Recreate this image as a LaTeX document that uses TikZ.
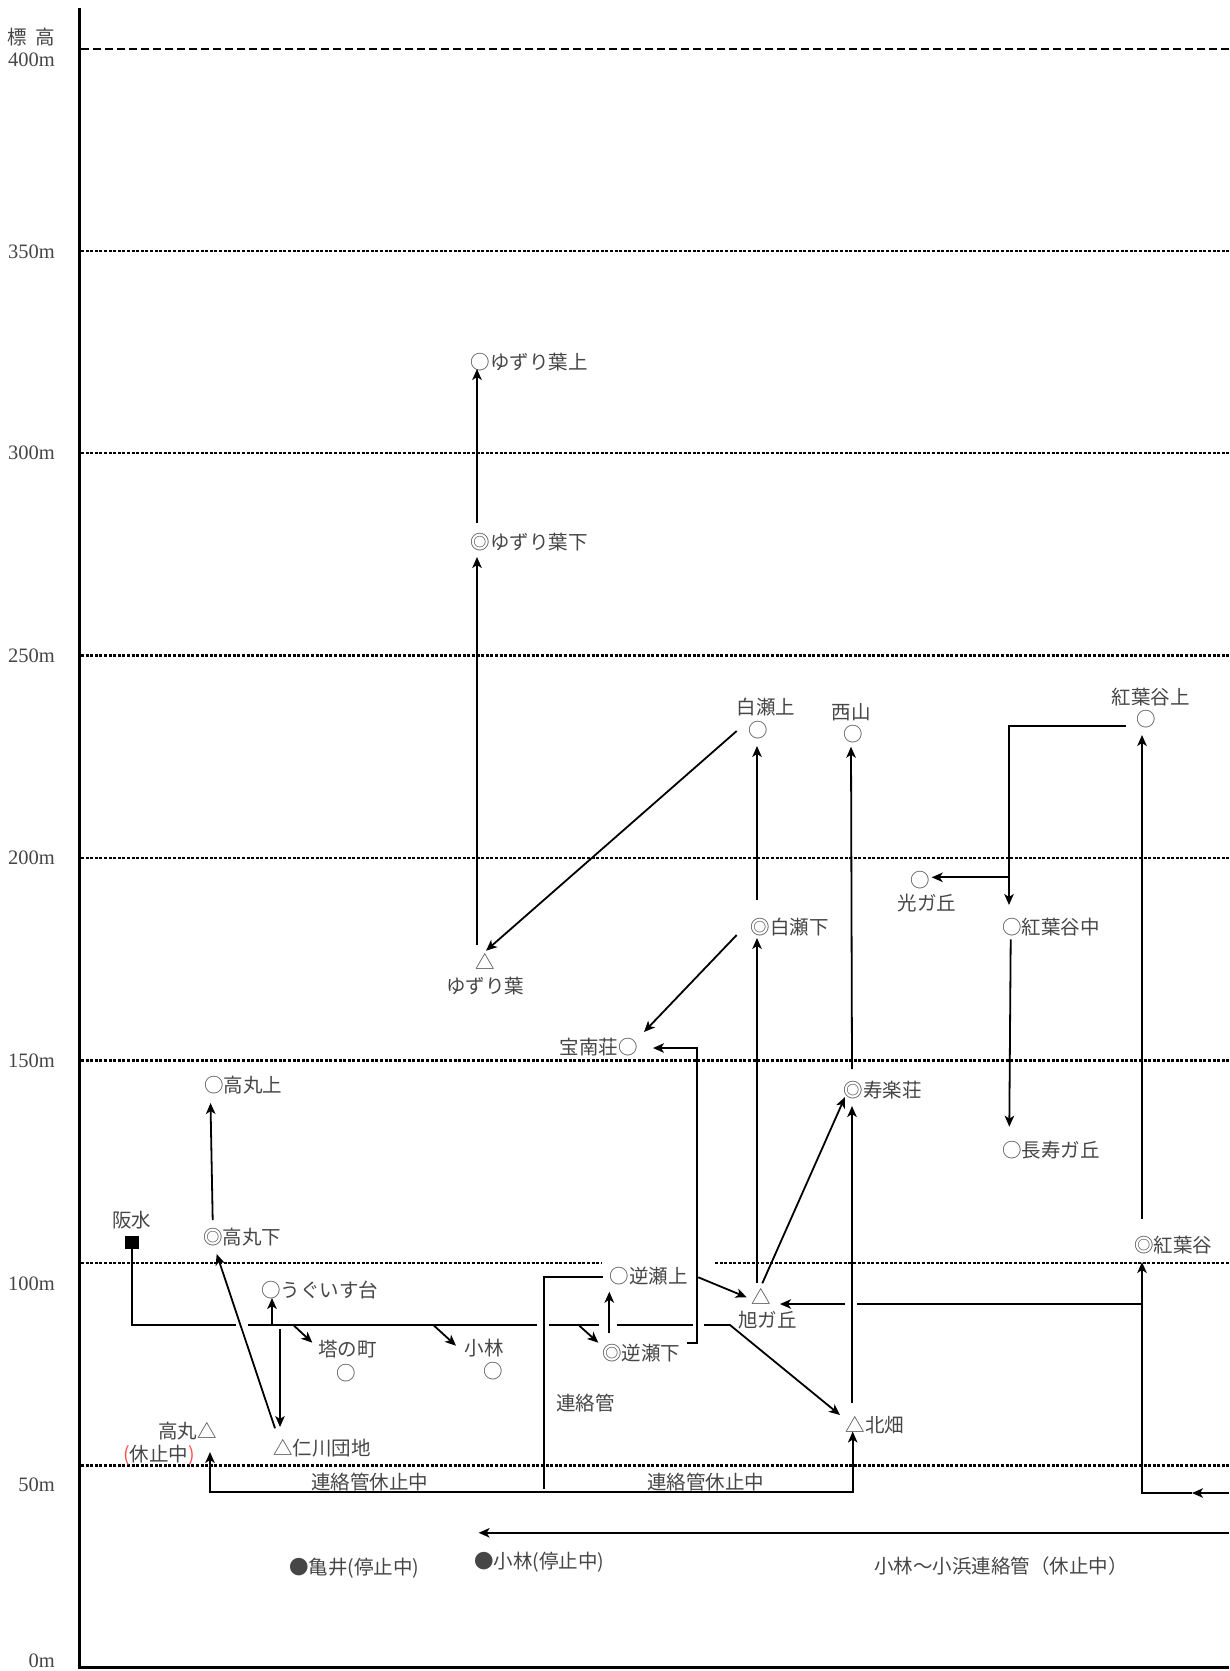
\documentclass[tikz,border=0pt]{standalone}
\usepackage{fontspec}
\newfontfamily\jp{Noto Sans CJK JP}
\newfontfamily\axf{Liberation Serif}
\usetikzlibrary{arrows.meta}
\definecolor{txt}{HTML}{464646}
\definecolor{paren}{HTML}{FF5050}
\begin{document}
\begin{tikzpicture}[x=1bp,y=-1bp,
  lbl/.style={font=\jp\fontsize{19.5bp}{24bp}\selectfont, text=txt, inner sep=0pt},
  axl/.style={font=\axf\fontsize{20.5bp}{24bp}\selectfont, text=txt, inner sep=0pt, anchor=east},
  pipe/.style={line width=1.8bp},
  arr/.style={pipe, -{Stealth[length=11bp,width=9.5bp,inset=3bp]}},
  barr/.style={pipe, {Stealth[length=11bp,width=9.5bp,inset=3bp]}-{Stealth[length=11bp,width=9.5bp,inset=3bp]}},
  gridln/.style={line width=2.3bp, dash pattern=on 3bp off 1.6bp},
  ]
\useasboundingbox (0,0) rectangle (1229,1671);

% ---------- axis ----------
\coordinate (axT) at (79.5,8);
\coordinate (axB) at (79.5,1667);
\coordinate (axR) at (1229,1667);
\draw[line width=3bp] (axT) -- (axB) -- (axR);

% grid lines
\draw[line width=2.5bp, dash pattern=on 8bp off 4bp] (81,49) -- (1229,49);
\foreach \yy in {251,453,655.5,858,1060.5,1465.5}
  \draw[gridln] (81,\yy) -- (1229,\yy);
\draw[gridln] (81,1263) -- (602,1263);
\draw[gridln] (715,1263) -- (1229,1263);

% axis labels
\node[lbl, anchor=east] (hyoko) at (55,37) {標\hspace{8bp}高};
\node[axl] (l400) at (55,59.5) {400m};
\node[axl] (l350) at (55,251.5) {350m};
\node[axl] (l300) at (55,453) {300m};
\node[axl] (l250) at (55,655.5) {250m};
\node[axl] (l200) at (55,858) {200m};
\node[axl] (l150) at (55,1060.5) {150m};
\node[axl] (l100) at (55,1283.5) {100m};
\node[axl] (l50) at (55,1485) {50m};
\node[axl] (l0) at (55,1660.5) {0m};

% ---------- stations ----------
\node[lbl, anchor=west] (yzU) at (470.5,362) {○ゆずり葉上};
\node[lbl, anchor=west] (yzD) at (470.5,542) {◎ゆずり葉下};
\node[lbl, align=center] (yz) at (485,974) {△\\ゆずり葉};
\node[lbl] (sirUl) at (766,707) {白瀬上};
\node[lbl] (sirU) at (758.3,730) {○};
\node[lbl] (nisl) at (851,712) {西山};
\node[lbl] (nis) at (853.3,734) {○};
\node[lbl, anchor=west] (sirD) at (750.5,926.7) {◎白瀬下};
\node[lbl, anchor=east] (hon) at (638,1047) {宝南荘○};
\node[lbl, anchor=west] (jur) at (843.5,1090) {◎寿楽荘};
\node[lbl] (kouUl) at (1150.5,697) {紅葉谷上};
\node[lbl] (kouU) at (1146.7,719.3) {○};
\node[lbl] (hik) at (920.7,880) {○};
\node[lbl] (hikl) at (927,903.3) {光ガ丘};
\node[lbl, anchor=west] (kouM) at (1002,927.3) {○紅葉谷中};
\node[lbl, anchor=west] (cho) at (1002,1150) {○長寿ガ丘};
\node[lbl, anchor=west] (takU) at (204,1085) {○高丸上};
\node[lbl, anchor=west] (takD) at (203,1237.3) {◎高丸下};
\node[lbl] (hanl) at (131.7,1220) {阪水};
\node[fill=black, minimum width=14bp, minimum height=13bp, inner sep=0pt] (han) at (132,1242.5) {};
\node[lbl, anchor=west] (ugu) at (261,1290) {○うぐいす台};
\node[lbl] (toul) at (347.3,1349.3) {塔の町};
\node[lbl] (tou) at (346.7,1372.7) {○};
\node[lbl] (kobl) at (484,1348.3) {小林};
\node[lbl] (kob) at (493.3,1371) {○};
\node[lbl, anchor=east] (tak) at (217,1431) {高丸△};
\node[lbl, anchor=east] (takk) at (195,1455) {\textcolor{paren}{(}休止中\textcolor{paren}{)}};
\node[lbl, anchor=west] (nig) at (273,1448.3) {△仁川団地};
\node[lbl, anchor=west] (sakU) at (609.5,1276) {○逆瀬上};
\node[lbl, anchor=west] (sakD) at (602,1353.3) {◎逆瀬下};
\node[lbl] (asa) at (761.7,1296.7) {△};
\node[lbl] (asal) at (767.3,1320) {旭ガ丘};
\node[lbl, anchor=west] (kit) at (845.5,1425) {△北畑};
\node[lbl, anchor=west] (kou) at (1134,1245) {◎紅葉谷};
\node[lbl] (renl) at (585.5,1403) {連絡管};
\node[lbl] (ren1) at (369.5,1481.6) {連絡管休止中};
\node[lbl] (ren2) at (705.5,1481.6) {連絡管休止中};
\node[lbl, anchor=west] (kam) at (289,1568) {●亀井(停止中)};
\node[lbl, anchor=west] (kobS) at (474,1562.6) {●小林(停止中)};
\node[lbl, anchor=west] (kohama) at (874,1566) {小林〜小浜連絡管（休止中）};

% ---------- connectors ----------
% ゆずり葉 -> ゆずり葉下 -> ゆずり葉上
\coordinate (yzTop) at (477,945);
\coordinate (yzDin) at (477,557);
\draw[arr] (yzTop) -- (yzDin);
\coordinate (yzDout) at (477,523);
\coordinate (yzUin) at (477,369);
\draw[arr] (yzDout) -- (yzUin);
% 白瀬上 -> ゆずり葉
\coordinate (sirUout) at (736.7,731);
\coordinate (yzin) at (486,950.7);
\draw[arr] (sirUout) -- (yzin);
% 白瀬下 -> 白瀬上
\coordinate (sirDout) at (757,900);
\coordinate (sirUin) at (757,746);
\draw[arr] (sirDout) -- (sirUin);
% 白瀬下 -> 宝南荘
\coordinate (sirDout2) at (736.7,935);
\coordinate (honin) at (644,1032);
\draw[arr] (sirDout2) -- (honin);
% 旭ガ丘 -> 白瀬下
\coordinate (asaout1) at (757,1283);
\coordinate (sirDin) at (757,938);
\draw[arr] (asaout1) -- (sirDin);
% 旭ガ丘 -> 寿楽荘
\coordinate (asaout2) at (762.3,1283.3);
\coordinate (jurin1) at (845,1097);
\draw[arr] (asaout2) -- (jurin1);
% 寿楽荘 -> 西山
\coordinate (jurout) at (852,1069);
\coordinate (nisin) at (851,746.7);
\draw[arr] (jurout) -- (nisin);
% 北畑 -> 寿楽荘
\coordinate (kitout) at (852,1403);
\coordinate (jurin2) at (852,1106);
\draw[arr] (kitout) -- (jurin2);

% 阪水 main line
\coordinate (hanout) at (132,1249);
\coordinate (m0) at (132,1325);
\coordinate (m1) at (236,1325);
\coordinate (m2) at (248.3,1325);
\coordinate (m3) at (537,1325);
\coordinate (m4) at (549,1325);
\coordinate (m5) at (599,1325);
\coordinate (m6) at (617,1325);
\coordinate (m7) at (693,1325);
\coordinate (m8) at (704,1325);
\coordinate (m9) at (730,1325);
\coordinate (kitin1) at (840,1415);
\draw[pipe] (hanout) -- (m0) -- (m1);
\draw[pipe] (m2) -- (m3);
\draw[pipe] (m4) -- (m5);
\draw[pipe] (m6) -- (m7);
\draw[arr] (m8) -- (m9) -- (kitin1);
% branches
\coordinate (bu1) at (272,1325);
\coordinate (uguin) at (272,1298);
\draw[arr] (bu1) -- (uguin);
\coordinate (bn1) at (280,1329);
\coordinate (nigin) at (280,1427);
\draw[arr] (bn1) -- (nigin);
\coordinate (bt1) at (293.3,1325);
\coordinate (touin) at (312.3,1342.7);
\draw[arr] (bt1) -- (touin);
\coordinate (bk1) at (433.3,1325);
\coordinate (kobin) at (456,1345.7);
\draw[arr] (bk1) -- (kobin);
\coordinate (bs1) at (579.3,1325.7);
\coordinate (sakDin) at (598.3,1342.7);
\draw[arr] (bs1) -- (sakDin);
% 仁川団地 -> 高丸下 -> 高丸上
\coordinate (nigout) at (275,1428.3);
\coordinate (takDin) at (216.7,1254);
\draw[arr] (nigout) -- (takDin);
\coordinate (takDout) at (212.7,1220);
\coordinate (takUin) at (210.5,1103);
\draw[arr] (takDout) -- (takUin);
% 逆瀬下 -> 逆瀬上 -> 旭ガ丘
\coordinate (sakDout) at (609.3,1333.3);
\coordinate (sakUin) at (609.3,1291.7);
\draw[arr] (sakDout) -- (sakUin);
\coordinate (sakUout) at (698.3,1277.3);
\coordinate (asain1) at (746.7,1297.3);
\draw[arr] (sakUout) -- (asain1);
% 逆瀬下 -> 宝南荘
\coordinate (sakDout2) at (687,1343);
\coordinate (hp1) at (697,1343);
\coordinate (hp2) at (697,1048);
\coordinate (honin2) at (653,1048);
\draw[arr] (sakDout2) -- (hp1) -- (hp2) -- (honin2);
% 連絡管
\coordinate (rk1) at (603,1276.7);
\coordinate (rk2) at (544,1276.7);
\coordinate (rk3) at (544,1489);
\draw[pipe] (rk1) -- (rk2) -- (rk3);
% 連絡管休止中 (bottom)
\coordinate (takin) at (210,1452);
\coordinate (rb1) at (210,1492);
\coordinate (rb2) at (852.7,1492);
\coordinate (kitin2) at (852.7,1431.5);
\draw[barr] (takin) -- (rb1) -- (rb2) -- (kitin2);
% 紅葉谷 -> 旭ガ丘
\coordinate (ka1) at (1143,1304);
\coordinate (ka2) at (857.3,1304);
\coordinate (ka3) at (845,1304);
\coordinate (asain2) at (780,1304);
\draw[pipe] (ka1) -- (ka2);
\draw[arr] (ka3) -- (asain2);
% right edge -> 紅葉谷
\coordinate (re1) at (1229,1493);
\coordinate (re2) at (1192,1493);
\coordinate (re3) at (1142,1493);
\coordinate (kouin) at (1142,1262);
\draw[arr] (re1) -- (re2);
\draw[arr] (re2) -- (re3) -- (kouin);
% 紅葉谷 -> 紅葉谷上
\coordinate (kouout) at (1142,1219);
\coordinate (kouUin) at (1142,735);
\draw[arr] (kouout) -- (kouUin);
% 紅葉谷上 -> 紅葉谷中 / 光ガ丘
\coordinate (kouUout) at (1125.7,726);
\coordinate (ku1) at (1009,726);
\coordinate (kouMin) at (1009,905);
\draw[arr] (kouUout) -- (ku1) -- (kouMin);
\coordinate (ku2) at (1008,877.3);
\coordinate (hikin) at (931.7,877.3);
\draw[arr] (ku2) -- (hikin);
% 紅葉谷中 -> 長寿ガ丘
\coordinate (kouMout) at (1010.7,939.3);
\coordinate (choin) at (1009.3,1126.7);
\draw[arr] (kouMout) -- (choin);
% 小林〜小浜連絡管
\coordinate (kh1) at (1229,1532.8);
\coordinate (kobSin) at (478.6,1532.8);
\draw[arr] (kh1) -- (kobSin);
\end{tikzpicture}
\end{document}
